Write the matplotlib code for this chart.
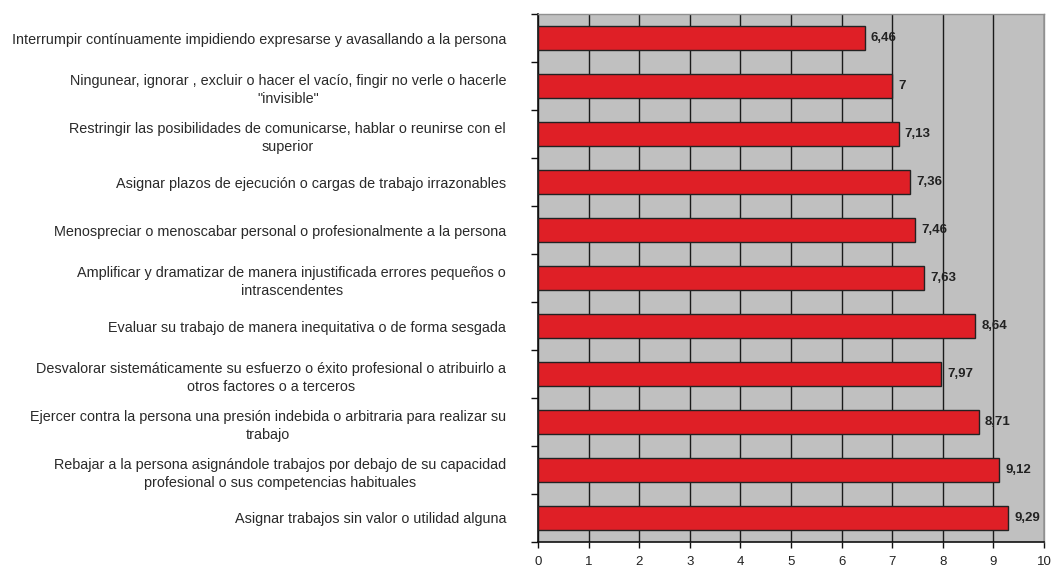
import matplotlib.pyplot as plt
import numpy as np

categories = [
    "Interrumpir contínuamente impidiendo expresarse y avasallando a la persona",
    "Ningunear, ignorar , excluir o hacer el vacío, fingir no verle o hacerle\n\"invisible\"",
    "Restringir las posibilidades de comunicarse, hablar o reunirse con el\nsuperior",
    "Asignar plazos de ejecución o cargas de trabajo irrazonables",
    "Menospreciar o menoscabar personal o profesionalmente a la persona",
    "Amplificar y dramatizar de manera injustificada errores pequeños o\nintrascendentes",
    "Evaluar su trabajo de manera inequitativa o de forma sesgada",
    "Desvalorar sistemáticamente su esfuerzo o éxito profesional o atribuirlo a\notros factores o a terceros",
    "Ejercer contra la persona una presión indebida o arbitraria para realizar su\ntrabajo",
    "Rebajar a la persona asignándole trabajos por debajo de su capacidad\nprofesional o sus competencias habituales",
    "Asignar trabajos sin valor o utilidad alguna",
]

values = [6.46, 7, 7.13, 7.36, 7.46, 7.63, 8.64, 7.97, 8.71, 9.12, 9.29]

x_ticks = list(range(0, 11))

plt.rcParams["font.family"] = ["Liberation Sans", "DejaVu Sans"]

fig = plt.figure(figsize=(10.52, 5.67), dpi=100)
ax = fig.add_axes([538 / 1052, 25 / 567, 506 / 1052, 528 / 567])

ax.set_facecolor("#C0C0C0")
ax.set_axisbelow(True)

positions = np.arange(len(categories))
ax.barh(
    positions,
    values,
    height=0.5,
    color="#DF1F26",
    edgecolor="#222222",
    linewidth=1,
    zorder=3,
)

for pos, value in zip(positions, values):
    text = f"{value:g}".replace(".", ",")
    ax.text(
        value + 0.12,
        pos,
        text,
        va="center",
        ha="left",
        fontsize=9.5,
        fontweight="bold",
        color="#222222",
        zorder=4,
    )

ax.set_xlim(0, 10)
ax.set_ylim(len(categories) - 0.5, -0.5)
ax.set_xticks(x_ticks)
ax.set_xticklabels([str(t) for t in x_ticks], fontsize=9.5, color="#222222")
ax.xaxis.grid(True, color="#1a1a1a", linewidth=1)

ax.set_yticks(positions)
ax.set_yticklabels(
    categories,
    fontsize=10.4,
    color="#2a2a2a",
    multialignment="center",
    linespacing=1.45,
)
ax.set_yticks(np.arange(-0.5, len(categories), 1), minor=True)
ax.tick_params(axis="y", which="major", length=0, pad=23)
ax.tick_params(axis="y", which="minor", length=5, width=1, color="#111111")
ax.tick_params(axis="x", length=4, width=1, color="#111111", pad=6)

for side in ("top", "right"):
    ax.spines[side].set_color("#909090")
    ax.spines[side].set_linewidth(1)
for side in ("left", "bottom"):
    ax.spines[side].set_color("#111111")
    ax.spines[side].set_linewidth(1.2)

fig.savefig("out.png", dpi=100)
